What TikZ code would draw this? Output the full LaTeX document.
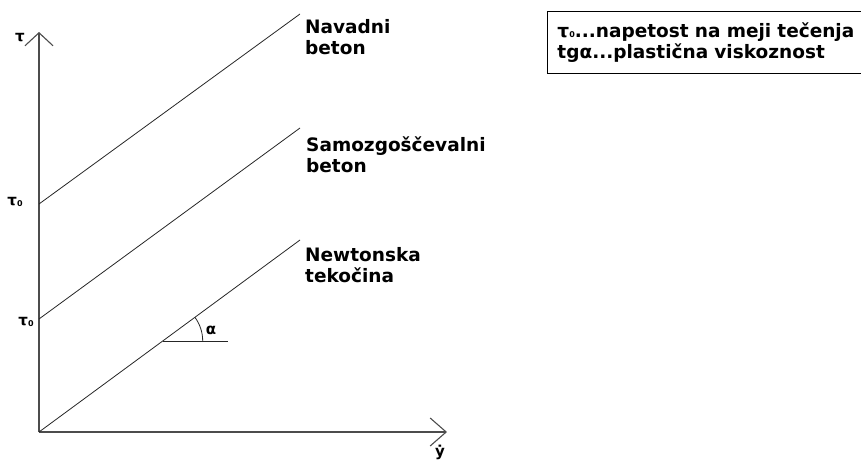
\documentclass[tikz,border=0pt]{standalone}
\usepackage{fontspec}
\setmainfont{DejaVu Sans}
\usetikzlibrary{arrows.meta}
\newcommand{\tauzero}{τ\raisebox{-0.5pt}{\fontsize{8}{8}\selectfont 0}}
\begin{document}
\begin{tikzpicture}[x=1pt,y=-1pt,
  lbl/.style={font=\bfseries\fontsize{18.5}{21}\selectfont, align=left, inner sep=0pt, anchor=north west},
  sym/.style={font=\bfseries\fontsize{15}{15}\selectfont, inner sep=0pt},
  graphline/.style={line width=0.8pt, black!85},
  axis/.style={line width=1.1pt, black!70},
  legend/.style={draw, line width=0.9pt, anchor=north west, minimum width=360pt, minimum height=62pt, inner xsep=8pt, inner ysep=0pt, text width=340pt, align=left, font=\bfseries\fontsize{18.5}{21}\selectfont}]
\useasboundingbox (0,0) rectangle (861,463);
\clip (0,0) rectangle (861,463);
% axes
\coordinate (O) at (39,432);
\coordinate (Ytip) at (39,32);
\coordinate (Xtip) at (447,432);
\draw[axis, -{Straight Barb[length=13pt,width=28pt]}] (O) -- (Ytip);
\draw[axis, -{Straight Barb[length=16pt,width=28pt]}] (O) -- (Xtip);
% lines
\coordinate (A1) at (39,204);
\coordinate (A2) at (300,14);
\coordinate (B1) at (39,319);
\coordinate (B2) at (300,128);
\coordinate (C2) at (300,240);
\draw[graphline] (A1) -- (A2);
\draw[graphline] (B1) -- (B2);
\draw[graphline] (O) -- (C2);
% alpha
\coordinate (P) at (162.7,341);
\coordinate (H) at (228,341);
\draw[graphline] (P) -- (H);
\draw[graphline] (P) ++(40,0) arc[start angle=0, end angle=-36.3, radius=40];
\node[sym] (alpha) at (211,330) {α};
% labels
\node[lbl] (nav) at (305,19) {Navadni\\beton};
\node[lbl] (sam) at (306,137) {Samozgoščevalni\\beton};
\node[lbl] (new) at (305,247) {Newtonska\\tekočina};
\node[sym] (tau) at (20,38) {τ};
\node[sym] (t1) at (15,202) {\tauzero};
\node[sym] (t2) at (26,322) {\tauzero};
\node[sym] (gdot) at (440,452) {ẏ};
% legend box
\node[legend] (leg) at (547,11) {\tauzero...napetost na meji tečenja\\tgα...plastična viskoznost};
\end{tikzpicture}
\end{document}
